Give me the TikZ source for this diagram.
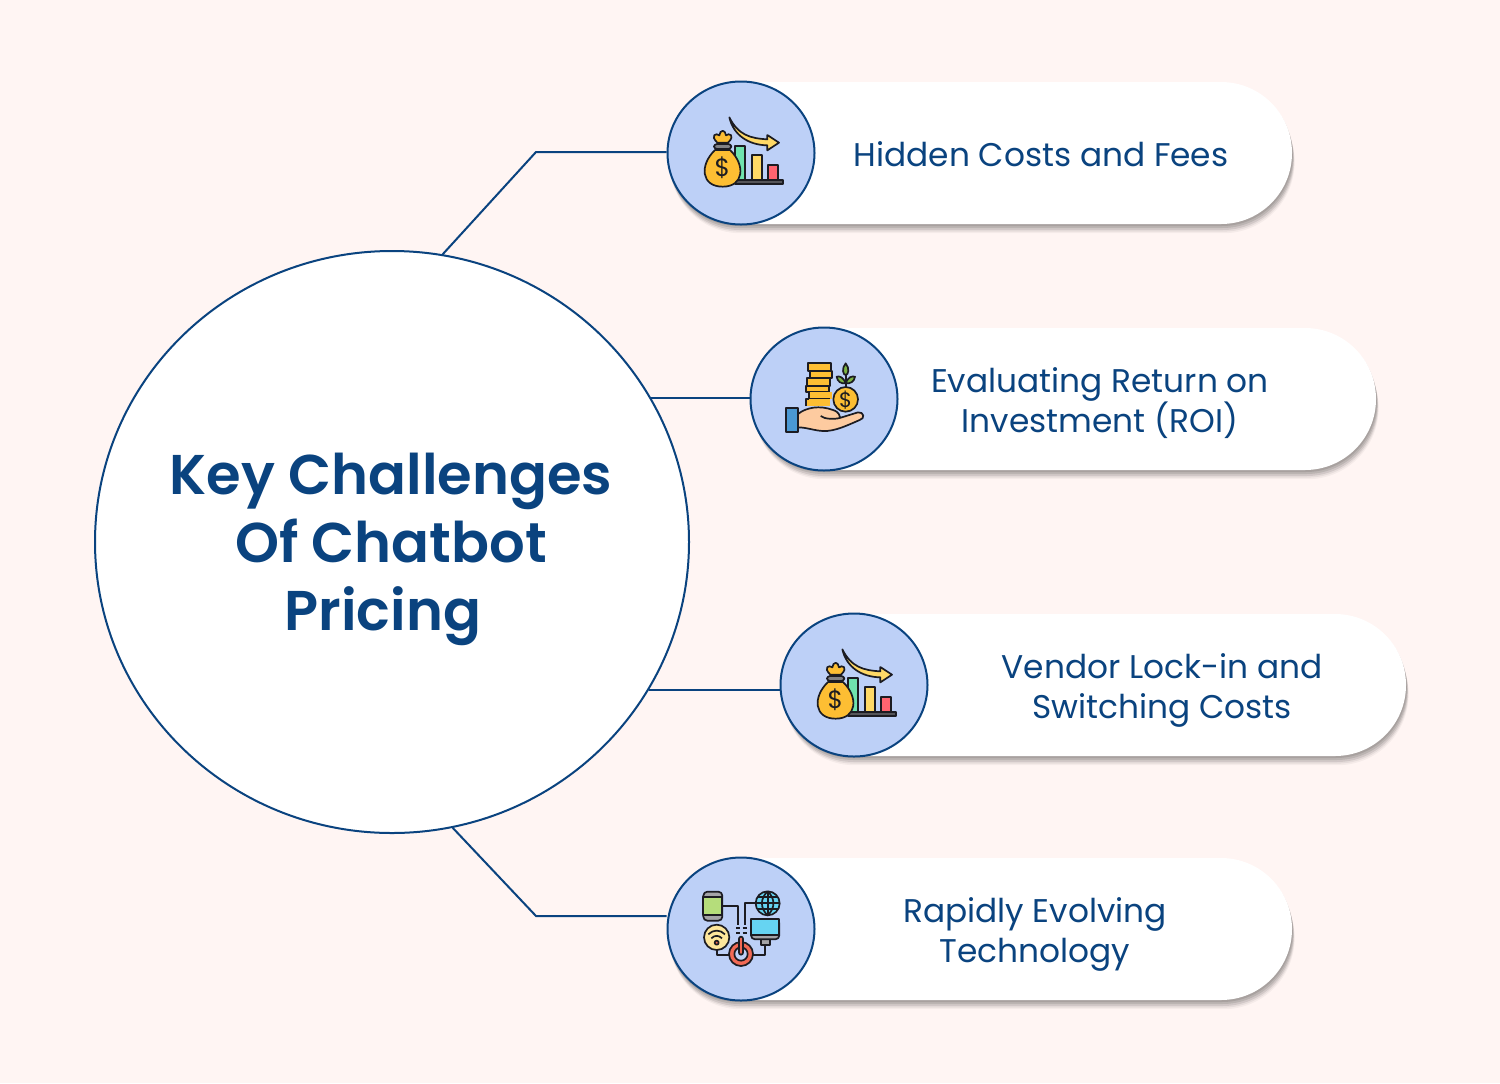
\documentclass[tikz,border=0pt]{standalone}
\usepackage{fontspec}
\setmainfont{Poppins}
\newfontfamily\titlefont{Poppins SemiBold}
\usetikzlibrary{shadows,shapes.geometric,positioning}
\definecolor{pagebg}{HTML}{FFF5F3}
\definecolor{navy}{HTML}{0A437F}
\definecolor{iconbg}{HTML}{BDD0F7}
\definecolor{ink}{HTML}{1C1C22}
\definecolor{bagcol}{HTML}{FDBE33}
\definecolor{barmint}{HTML}{6FE3AE}
\definecolor{baryel}{HTML}{FFD966}
\definecolor{barred}{HTML}{FF6470}
\definecolor{skin}{HTML}{FDCBA0}
\definecolor{sleeve}{HTML}{4A98D3}
\definecolor{leaf}{HTML}{7CB342}
\definecolor{screen}{HTML}{66D4F2}
\definecolor{phonecol}{HTML}{B5DD7B}
\definecolor{wificol}{HTML}{FDE69B}
\definecolor{powercol}{HTML}{F26A55}

% Money bag with falling bars
\newcommand{\moneyicon}[1]{%
    \begin{scope}[shift={(#1)},scale=1/3,shift={(-243,-249)},icon]
    \draw[fill=barmint] (225,228) rectangle (255,330);
    \draw[fill=baryel] (275,256) rectangle (305,330);
    \draw[fill=barred] (325,284) rectangle (355,330);
    \draw[fill=ink!75] (225,330) rectangle (368,343);
    % arrow
    \draw[fill=baryel] (208,142) .. controls (235,195) and (270,205) .. (322,208) -- (322,195) -- (357,218) -- (322,241) -- (322,226)
        .. controls (265,225) and (220,195) .. (208,142) -- cycle;
    % bag
    \draw[fill=bagcol] (165,240) .. controls (118,285) and (123,350) .. (188,350)
        .. controls (252,350) and (257,285) .. (210,240) -- cycle;
    \draw[fill=bagcol] (172,218) .. controls (148,195) and (170,188) .. (178,196)
        .. controls (180,178) and (196,178) .. (198,196) .. controls (206,188) and (228,195) .. (204,218) -- cycle;
    \draw[fill=ink!55,rounded corners=1.5pt] (162,222) rectangle (214,237);
    \node[font=\fontsize{12.5}{13}\selectfont,text=ink] (#1sign) at (187,292) {\$};
    \end{scope}}

% Coins and plant on an open hand
\newcommand{\coinicon}[1]{%
    \begin{scope}[shift={(#1)},scale=1/3,shift={(-238,-237)},icon]
    \draw[fill=bagcol] (190,130) rectangle (260,152);
    \draw[fill=bagcol] (195,152) rectangle (262,175);
    \draw[fill=bagcol] (187,175) rectangle (255,197);
    \draw[fill=bagcol] (184,197) rectangle (253,217);
    \draw[fill=bagcol,draw=none] (192,217) rectangle (262,238);
    \draw (192,217) -- (192,238) -- (255,238);
    \draw[fill=bagcol,draw=none] (184,238) rectangle (255,258);
    \draw (184,258) -- (184,238) -- (192,238);
    % plant
    \draw (303,205) -- (303,165);
    \draw[fill=leaf] (303,130) .. controls (290,145) and (295,165) .. (303,165) .. controls (311,165) and (316,145) .. (303,130) -- cycle;
    \draw[fill=leaf] (303,190) .. controls (295,170) and (285,168) .. (276,170) .. controls (278,185) and (290,192) .. (303,190) -- cycle;
    \draw[fill=leaf] (303,190) .. controls (311,170) and (321,168) .. (331,170) .. controls (329,185) and (316,192) .. (303,190) -- cycle;
    % coin
    \draw[fill=bagcol] (303,238) circle (37);
    \node[font=\fontsize{10.5}{11}\selectfont,text=ink] (#1sign) at (303,240) {\$};
    % hand
    \draw[fill=skin] (160,282) .. controls (185,262) and (225,255) .. (265,270) .. controls (285,276) and (286,290) .. (285,294)
        -- (340,277) .. controls (358,275) and (362,296) .. (345,300) .. controls (310,315) and (270,335) .. (235,333)
        .. controls (210,332) and (185,322) .. (160,322) -- cycle;
    \draw (228,288) .. controls (240,298) and (270,298) .. (285,294);
    \draw[fill=sleeve] (124,264) rectangle (161,337);
    \end{scope}}

% Connected devices
\newcommand{\deviceicon}[1]{%
    \begin{scope}[shift={(#1)},scale=1/3,shift={(-243,-237)},icon]
    % wires
    \draw (187,168) -- (234,168) -- (234,226);
    \draw (290,160) -- (254,160) -- (254,226);
    \draw (228,235) -- (240,235) (248,235) -- (260,235) (228,250) -- (240,250) (248,250) -- (260,250);
    \draw (170,298) -- (170,315) -- (210,315);
    \draw (276,315) -- (316,315) -- (316,284);
    % phone
    \draw[fill=ink!40,rounded corners=2pt] (130,125) rectangle (187,212);
    \draw[fill=phonecol] (130,140) rectangle (187,196);
    % globe
    \draw[fill=screen] (323,160) circle (36);
    \draw (287,160) -- (359,160) (323,124) -- (323,196) (293,142) -- (353,142) (293,178) -- (353,178);
    \draw (323,124) .. controls (300,145) and (300,175) .. (323,196) .. controls (346,175) and (346,145) .. (323,124);
    % monitor
    \draw[fill=ink!40] (302,266) rectangle (330,284);
    \draw[fill=ink!40,rounded corners=2pt] (273,208) rectangle (358,268);
    \draw[fill=screen] (273,208) rectangle (358,255);
    % wifi
    \draw[fill=wificol] (170,262) circle (38);
    \draw (145,253) .. controls (160,238) and (180,238) .. (195,253);
    \draw (154,265) .. controls (164,255) and (176,255) .. (186,265);
    \draw[fill=powercol] (170,278) circle (6);
    % power
    \draw[fill=powercol] (243,312) circle (36);
    \draw[fill=iconbg] (243,312) circle (20);
    \draw[fill=powercol,rounded corners=1pt] (237,260) rectangle (249,314);
    \end{scope}}

\begin{document}
\begin{tikzpicture}[
    x=0.5pt, y=-0.5pt,
    % GLOBAL CFG
    icon/.style={% For the little pictures
        draw=ink,
        line width=.85pt,
        line join=round,
        },
    % Styles
    hub/.style={% For the big circle
        ellipse,
        draw=navy,
        fill=white,
        line width=1pt,
        minimum width=297pt,
        minimum height=291pt,
        inner sep=0pt,
        },
    pill/.style={% For the white labels
        rectangle,
        rounded corners=35.5pt,
        fill=white,
        minimum width=312.5pt,
        minimum height=71pt,
        drop shadow={shadow xshift=.4pt,shadow yshift=-1pt,fill=black,opacity=.10},
        drop shadow={shadow xshift=.7pt,shadow yshift=-2pt,fill=black,opacity=.10},
        drop shadow={shadow xshift=.9pt,shadow yshift=-3pt,fill=black,opacity=.09},
        drop shadow={shadow xshift=1.1pt,shadow yshift=-3.8pt,fill=black,opacity=.06},
        drop shadow={shadow xshift=1.3pt,shadow yshift=-4.6pt,fill=black,opacity=.04},
        },
    badge/.style={% For the blue circles
        ellipse,
        draw=navy,
        fill=iconbg,
        line width=1pt,
        minimum width=73.5pt,
        minimum height=71.5pt,
        inner sep=0pt,
        },
    caption/.style={% For the label texts
        font=\fontsize{16.4}{20}\selectfont,
        text=navy,
        align=center,
        },
    link/.style={% For the thin lines
        draw=navy,
        line width=1pt,
        },
    ]

    % Draw the page
    \fill[pagebg] (0,0) rectangle (1500,1083);
    \useasboundingbox (0,0) rectangle (1500,1083);

    % Draw the centre
    \node [hub] (hub) at (392,542) {};
    \node [font=\titlefont\fontsize{28}{34}\selectfont, text=navy, align=center] (title) at (391,549) {Key Challenges\\Of Chatbot\\Pricing\hspace*{8pt}};

    % Draw the pills named pill#
    \node [pill] (pill1) at (979.5,153) {};
    \node [pill] (pill2) at (1063.5,399) {};
    \node [pill] (pill3) at (1093.5,685) {};
    \node [pill] (pill4) at (979.5,929) {};

    % Draw the elbows
    \coordinate (bend1) at (536,152);
    \coordinate (bend4) at (536,916);

    % Draw the lines
    \draw [link] (hub.80.6) -- (bend1) -- (bend1 -| pill1.west);
    \draw [link] (hub.29.1) -- (hub.29.1 -| pill2.west);
    \draw [link] (hub.-30.7) -- (hub.-30.7 -| pill3.west);
    \draw [link] (hub.-78.4) -- (bend4) -- (bend4 -| pill4.west);

    % Draw the badges named icon#
    \node [badge] (icon1) at (741,153) {};
    \node [badge] (icon2) at (824,399) {};
    \node [badge] (icon3) at (854,685) {};
    \node [badge] (icon4) at (741,929) {};
    \moneyicon{icon1}
    \coinicon{icon2}
    \moneyicon{icon3}
    \deviceicon{icon4}

    % Draw the texts
    \node [caption] (text1) at (1041,154) {Hidden Costs and Fees};
    \node [caption] (text2) at (1100,403) {Evaluating Return on\\Investment (ROI)};
    \node [caption] (text3) at (1162,690) {Vendor Lock-in and\\Switching Costs};
    \node [caption] (text4) at (1035,934) {Rapidly Evolving\\Technology};
\end{tikzpicture}
\end{document}
